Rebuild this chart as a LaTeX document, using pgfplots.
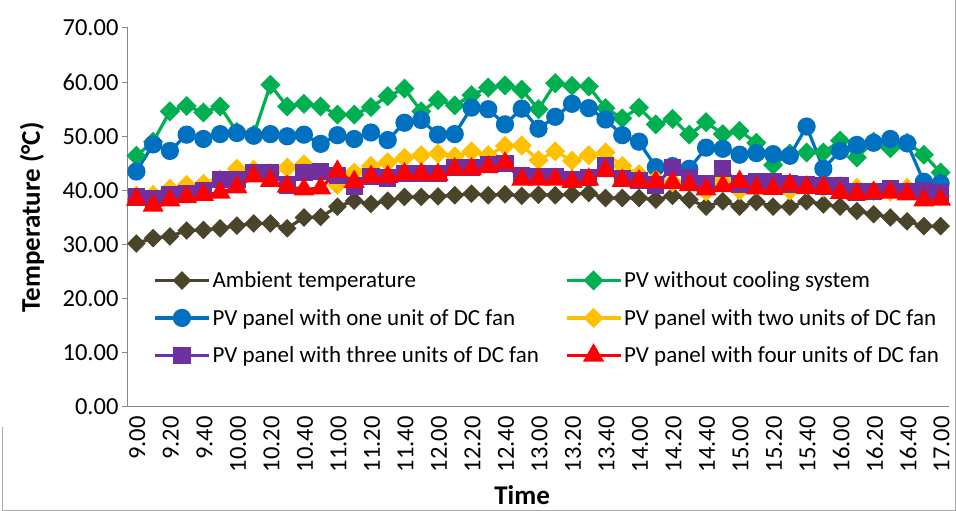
\documentclass[border=0pt]{standalone}
\usepackage{fontspec}
\setmainfont{Carlito}
\usepackage{pgfplots}
\pgfplotsset{compat=1.18}
\usepackage{pgfplotstable}
\usetikzlibrary{calc}

\definecolor{camb}{RGB}{74,69,42}
\definecolor{cgreen}{RGB}{0,176,80}
\definecolor{cblue}{RGB}{0,112,192}
\definecolor{cyellow}{RGB}{255,192,0}
\definecolor{cpurple}{RGB}{112,48,160}
\definecolor{cred}{RGB}{255,0,0}
\definecolor{axgray}{RGB}{134,134,134}

\pgfplotstableread{
i amb grn blu yel pur red
0 30.2 46.4 43.5 39.0 38.8 38.3
1 31.2 49.0 48.5 39.2 38.5 37.2
2 31.5 54.6 47.3 40.3 39.3 38.2
3 32.6 55.6 50.3 41.0 39.4 38.8
4 32.7 54.4 49.5 41.2 40.0 39.2
5 33.0 55.5 50.4 42.0 42.0 39.6
6 33.5 50.8 50.6 44.0 42.0 40.6
7 33.9 50.3 50.1 43.8 43.3 42.6
8 33.9 59.5 50.4 43.2 43.3 41.8
9 33.0 55.5 50.0 44.2 41.0 40.7
10 35.0 56.0 50.3 44.8 43.3 40.2
11 35.1 55.5 48.6 43.0 43.5 40.4
12 37.0 54.0 50.2 41.0 42.8 43.5
13 38.1 54.0 49.5 43.3 40.8 41.6
14 37.5 55.4 50.7 44.5 42.5 42.5
15 38.1 57.4 49.3 45.2 42.3 42.5
16 38.8 58.8 52.5 46.0 43.2 43.0
17 38.8 54.6 53.0 46.5 43.2 43.0
18 38.9 56.7 50.3 46.8 43.2 42.9
19 39.1 55.7 50.4 46.3 44.3 43.9
20 39.4 57.6 55.3 47.2 44.3 43.9
21 39.1 59.0 55.0 46.5 44.8 44.3
22 39.3 59.4 52.2 48.2 45.0 45.0
23 39.0 58.6 55.1 48.3 42.8 42.0
24 39.2 55.0 51.4 45.6 42.6 42.0
25 39.1 59.8 53.6 47.2 42.5 42.0
26 39.3 59.3 56.0 45.5 42.0 41.6
27 39.5 59.2 55.2 46.5 42.4 42.0
28 38.6 55.2 53.1 47.0 44.5 43.6
29 38.6 53.3 50.2 44.5 42.2 41.8
30 38.6 55.3 49.0 43.0 41.8 41.7
31 38.3 52.2 44.3 42.0 41.0 41.6
32 39.0 53.2 44.5 41.5 44.2 41.4
33 38.3 50.3 44.0 41.7 42.3 41.0
34 37.0 52.6 47.9 39.8 41.2 40.2
35 38.0 50.4 47.7 42.0 44.0 40.8
36 37.0 51.0 46.6 40.0 41.2 41.6
37 37.9 48.8 46.9 41.0 41.6 40.4
38 37.0 44.7 46.7 41.0 41.6 40.3
39 37.0 46.8 46.4 40.0 41.2 41.0
40 38.0 47.0 51.8 41.0 41.0 40.5
41 37.4 47.0 44.0 40.5 40.8 40.5
42 37.0 49.2 47.3 40.8 40.8 39.5
43 36.2 46.1 48.4 40.5 39.7 39.3
44 35.6 49.0 48.8 39.8 39.8 39.6
45 35.0 47.8 49.5 39.8 40.3 39.6
46 34.3 48.8 48.7 40.5 39.8 39.3
47 33.4 46.6 41.6 39.5 40.0 38.2
48 33.4 43.3 41.3 39.0 39.6 38.3
}\datatable

\begin{document}
\begin{tikzpicture}
\begin{axis}[
  scale only axis, width=821pt, height=379pt,
  xmin=-0.5, xmax=48.5, ymin=0, ymax=70,
  axis x line=bottom, axis y line=left,
  axis line style={-, draw=axgray, line width=1pt},
  ytick={0,10,...,70},
  yticklabels={0.00,10.00,20.00,30.00,40.00,50.00,60.00,70.00},
  xtick={0,2,...,48},
  xticklabels={9.00,9.20,9.40,10.00,10.20,10.40,11.00,11.20,11.40,12.00,12.20,12.40,13.00,13.20,13.40,14.00,14.20,14.40,15.00,15.20,15.40,16.00,16.20,16.40,17.00},
  x tick label style={rotate=90, anchor=east, yshift=-1pt},
  xtick style={draw=none},
  ytick style={draw=axgray, line width=1pt},
  tick align=outside, major tick length=6pt,
  tick label style={font=\fontsize{24.5}{28}\selectfont},
  xlabel={\textbf{Time}}, ylabel={\textbf{Temperature (°C)}},
  label style={font=\fontsize{27}{30}\selectfont},
  xlabel style={at={(axis description cs:0.48,-0.232)}, anchor=center},
  ylabel style={at={(axis description cs:-0.117,0.5)}, anchor=center},
  legend columns=2,
  legend cell align=left,
  legend style={at={(axis description cs:0.027,0.368)}, anchor=north west,
    draw=none, fill=none, font=\fontsize{23}{26}\selectfont, row sep=16pt,
    /tikz/every even column/.append style={column sep=24pt}},
  legend image code/.code={\draw[mark repeat=2, mark phase=2] plot coordinates {(0pt,0pt) (27pt,0pt) (54pt,0pt)};},
  every axis plot/.append style={line width=3.2pt},
]
\addplot[color=camb, mark=square*, mark size=5pt, mark options={rotate=45, solid}] table[x=i, y=amb] {\datatable};
\addlegendentry{Ambient temperature}
\addplot[color=cgreen, mark=square*, mark size=5.5pt, mark options={rotate=45, solid}] table[x=i, y=grn] {\datatable};
\addlegendentry{PV without cooling system}
\addplot[color=cblue, mark=*, mark size=7.5pt] table[x=i, y=blu] {\datatable};
\addlegendentry{PV panel with one unit of DC fan}
\addplot[color=cyellow, mark=square*, mark size=5.5pt, mark options={rotate=45, solid}] table[x=i, y=yel] {\datatable};
\addlegendentry{PV panel with two units of DC fan}
\addplot[color=cpurple, mark=square*, mark size=7pt] table[x=i, y=pur] {\datatable};
\addlegendentry{PV panel with three units of DC fan}
\addplot[color=cred, mark=triangle*, mark size=9pt] table[x=i, y=red] {\datatable};
\addlegendentry{PV panel with four units of DC fan}
\coordinate (ll) at (rel axis cs:0,0);
\coordinate (ur) at (rel axis cs:1,1);
\end{axis}
\pgfresetboundingbox
\path[use as bounding box] ($(ll)+(-128pt,-104pt)$) rectangle ($(ur)+(7pt,28pt)$);
\draw[axgray!70, line width=0.8pt] ($(ll)+(-126pt,-20pt)$) -- ($(ll)+(-126pt,-103.5pt)$) -- ($(ur|-ll)+(6pt,-103.5pt)$) -- ($(ur)+(6pt,28pt)$);
\end{tikzpicture}
\end{document}
